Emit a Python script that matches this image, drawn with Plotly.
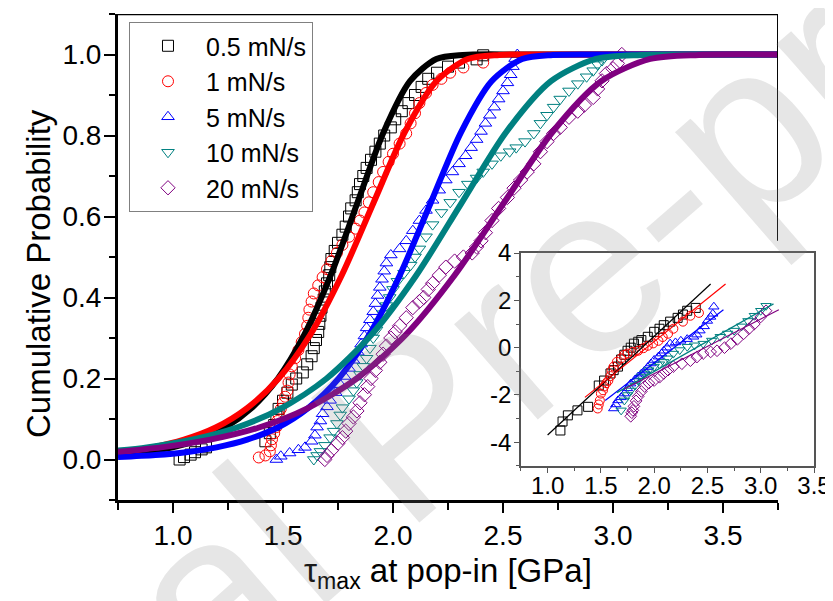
import plotly.graph_objects as go

# ---------------- data ----------------
series_names = ["0.5 mN/s", "1 mN/s", "5 mN/s", "10 mN/s", "20 mN/s"]
series_colors = ["#000000", "#ff0000", "#0000ff", "#008080", "#800080"]
series_symbols = ["square-open", "circle-open", "triangle-up-open", "triangle-down-open", "diamond-open"]

# empirical cumulative probability (main panel)
x05 = [1.03, 1.05, 1.08, 1.10, 1.13, 1.15, 1.42, 1.44, 1.46, 1.47, 1.48, 1.50, 1.52, 1.54, 1.56,
       1.59, 1.61, 1.63, 1.64, 1.65, 1.66, 1.665, 1.67, 1.675, 1.685, 1.69, 1.70, 1.71, 1.715, 1.72,
       1.735, 1.75, 1.77, 1.785, 1.80, 1.81, 1.83, 1.84, 1.85, 1.865, 1.88, 1.90, 1.92, 1.94, 1.96,
       1.99, 2.01, 2.04, 2.07, 2.10, 2.13, 2.16, 2.20, 2.25, 2.30, 2.38, 2.41]
y05 = [0.0, 0.006, 0.012, 0.018, 0.025, 0.03, 0.045, 0.065, 0.085, 0.105, 0.125, 0.145, 0.165, 0.185, 0.2,
       0.215, 0.235, 0.255, 0.275, 0.295, 0.315, 0.335, 0.355, 0.375, 0.395, 0.415, 0.435, 0.455, 0.475, 0.495,
       0.515, 0.535, 0.555, 0.575, 0.6, 0.62, 0.64, 0.66, 0.68, 0.7, 0.72, 0.74, 0.76, 0.78, 0.8,
       0.82, 0.84, 0.86, 0.88, 0.9, 0.92, 0.94, 0.955, 0.97, 0.98, 0.988, 0.998]

x1 = [1.39, 1.42, 1.44, 1.445, 1.45, 1.46, 1.47, 1.475, 1.48, 1.49, 1.50, 1.51, 1.52, 1.525, 1.53,
      1.54, 1.555, 1.57, 1.585, 1.60, 1.61, 1.615, 1.62, 1.63, 1.64, 1.66, 1.68, 1.70, 1.72, 1.745,
      1.77, 1.80, 1.83, 1.85, 1.87, 1.89, 1.91, 1.935, 1.955, 1.98, 2.0, 2.03, 2.06, 2.08, 2.10,
      2.12, 2.15, 2.18, 2.22, 2.26, 2.32, 2.41]
y1 = [0.005, 0.01, 0.02, 0.035, 0.05, 0.065, 0.08, 0.095, 0.11, 0.125, 0.14, 0.155, 0.17, 0.19, 0.21,
      0.23, 0.25, 0.27, 0.29, 0.31, 0.33, 0.35, 0.37, 0.39, 0.41, 0.43, 0.45, 0.47, 0.49, 0.51,
      0.53, 0.55, 0.57, 0.59, 0.61, 0.635, 0.66, 0.685, 0.71, 0.735, 0.755, 0.78, 0.805, 0.83, 0.855,
      0.88, 0.905, 0.925, 0.94, 0.955, 0.968, 0.98]

x5 = [1.47, 1.49, 1.53, 1.57, 1.60, 1.63, 1.645, 1.655, 1.67, 1.68, 1.70, 1.714, 1.74, 1.76, 1.78,
      1.80, 1.82, 1.84, 1.855, 1.87, 1.88, 1.895, 1.91, 1.92, 1.93, 1.94, 1.95, 1.96, 1.97, 1.99,
      2.03, 2.06, 2.09, 2.12, 2.15, 2.18, 2.21, 2.24, 2.27, 2.30, 2.33, 2.355, 2.38, 2.40, 2.42,
      2.44, 2.46, 2.48, 2.50, 2.52, 2.535, 2.545, 2.555, 2.565]
y5 = [0.0, 0.008, 0.016, 0.024, 0.03, 0.045, 0.06, 0.08, 0.095, 0.113, 0.13, 0.146, 0.165, 0.185, 0.205,
      0.225, 0.245, 0.265, 0.285, 0.305, 0.325, 0.345, 0.365, 0.385, 0.405, 0.425, 0.445, 0.465, 0.485, 0.505,
      0.52, 0.54, 0.565, 0.59, 0.615, 0.64, 0.665, 0.69, 0.71, 0.73, 0.75, 0.77, 0.79, 0.81, 0.83,
      0.85, 0.87, 0.89, 0.91, 0.93, 0.95, 0.97, 0.99, 1.0]

x10 = [1.64, 1.655, 1.67, 1.69, 1.714, 1.73, 1.745, 1.76, 1.77, 1.80, 1.82, 1.835, 1.85, 1.865, 1.88,
       1.895, 1.91, 1.925, 1.94, 1.955, 1.97, 1.985, 2.0, 2.02, 2.05, 2.08, 2.10, 2.12, 2.15, 2.18,
       2.22, 2.26, 2.30, 2.34, 2.38, 2.41, 2.45, 2.49, 2.53, 2.56, 2.60, 2.64, 2.67, 2.70, 2.73,
       2.76, 2.80, 2.84, 2.88, 2.91, 2.93, 2.95]
y10 = [0.0, 0.01, 0.02, 0.035, 0.054, 0.07, 0.089, 0.11, 0.128, 0.15, 0.17, 0.19, 0.21, 0.23, 0.25,
       0.275, 0.3, 0.32, 0.34, 0.36, 0.38, 0.4, 0.42, 0.44, 0.46, 0.48, 0.5, 0.52, 0.55, 0.58,
       0.61, 0.635, 0.66, 0.68, 0.695, 0.71, 0.73, 0.75, 0.76, 0.77, 0.785, 0.805, 0.83, 0.85, 0.87,
       0.89, 0.91, 0.928, 0.945, 0.96, 0.975, 0.985]

x20 = [1.69, 1.70, 1.72, 1.75, 1.77, 1.785, 1.80, 1.82, 1.836, 1.85, 1.87, 1.885, 1.90, 1.92, 1.94,
       1.955, 1.97, 1.99, 2.01, 2.03, 2.06, 2.09, 2.12, 2.14, 2.16, 2.18, 2.21, 2.24, 2.28, 2.32,
       2.36, 2.38, 2.40, 2.42, 2.45, 2.48, 2.52, 2.55, 2.58, 2.61, 2.64, 2.67, 2.70, 2.73, 2.76,
       2.80, 2.84, 2.87, 2.91, 2.93, 2.95, 2.97, 3.0, 3.02, 3.04]
y20 = [0.0, 0.01, 0.022, 0.04, 0.054, 0.07, 0.089, 0.105, 0.12, 0.14, 0.16, 0.18, 0.2, 0.22, 0.24,
       0.26, 0.28, 0.3, 0.315, 0.33, 0.35, 0.375, 0.39, 0.4, 0.42, 0.435, 0.455, 0.475, 0.49, 0.5,
       0.51, 0.525, 0.54, 0.56, 0.59, 0.62, 0.647, 0.67, 0.69, 0.71, 0.73, 0.76, 0.785, 0.805, 0.82,
       0.845, 0.86, 0.875, 0.894, 0.915, 0.935, 0.953, 0.965, 0.978, 1.0]

# fitted cumulative curves (main panel)
fx05 = [0.75, 0.878, 0.998, 1.118, 1.237, 1.357, 1.477, 1.597, 1.717, 1.837, 1.957, 2.077, 2.197, 2.317, 2.6, 3.75]
fy05 = [0.011, 0.018, 0.030, 0.049, 0.079, 0.127, 0.200, 0.308, 0.455, 0.632, 0.808, 0.934, 0.989, 0.999, 1.0, 1.0]
fx1 = [0.75, 0.907, 1.050, 1.194, 1.337, 1.480, 1.624, 1.767, 1.910, 2.053, 2.197, 2.340, 2.483, 2.8, 3.75]
fy1 = [0.017, 0.030, 0.049, 0.079, 0.127, 0.200, 0.308, 0.455, 0.632, 0.808, 0.934, 0.989, 0.999, 1.0, 1.0]
fx5 = [0.75, 0.92, 1.059, 1.198, 1.337, 1.476, 1.614, 1.753, 1.892, 2.031, 2.17, 2.309, 2.448, 2.587, 2.726, 3.0, 3.75]
fy5 = [0.006, 0.011, 0.018, 0.030, 0.049, 0.079, 0.127, 0.200, 0.308, 0.455, 0.632, 0.808, 0.934, 0.989, 0.999, 1.0, 1.0]
fx10 = [0.75, 0.881, 1.086, 1.290, 1.494, 1.698, 1.902, 2.106, 2.310, 2.514, 2.718, 2.922, 3.126, 3.4, 3.75]
fy10 = [0.022, 0.030, 0.049, 0.079, 0.127, 0.200, 0.308, 0.455, 0.632, 0.808, 0.934, 0.989, 0.999, 1.0, 1.0]
fx20 = [0.75, 0.946, 1.169, 1.391, 1.613, 1.835, 2.058, 2.280, 2.502, 2.724, 2.946, 3.169, 3.391, 3.75]
fy20 = [0.019, 0.030, 0.049, 0.079, 0.127, 0.200, 0.308, 0.455, 0.632, 0.808, 0.934, 0.989, 0.999, 1.0]

# inset: Weibull plot points
ix05 = [1.12, 1.14, 1.19, 1.28, 1.38, 1.48, 1.53, 1.59, 1.62, 1.66, 1.69, 1.72, 1.75, 1.78, 1.81,
        1.85, 1.88, 1.94, 2.0, 2.05, 2.09, 2.15, 2.22, 2.27, 2.31, 2.39]
iy05 = [-3.5, -3.12, -2.86, -2.65, -2.5, -1.6, -1.39, -1.09, -0.95, -0.8, -0.5, -0.3, -0.13, 0.0, 0.17,
        0.25, 0.32, 0.46, 0.67, 0.8, 0.95, 1.1, 1.26, 1.4, 1.56, 1.68]
ix1 = [1.47, 1.48, 1.49, 1.5, 1.52, 1.53, 1.55, 1.57, 1.59, 1.6, 1.62, 1.65, 1.69, 1.72, 1.75,
       1.8, 1.85, 1.9, 1.94, 1.99, 2.04, 2.08, 2.13, 2.18, 2.27, 2.34, 2.42]
iy1 = [-2.57, -2.4, -2.23, -1.94, -1.8, -1.64, -1.5, -1.39, -1.2, -0.97, -0.8, -0.6, -0.45, -0.3, -0.25,
       -0.18, -0.13, -0.02, 0.08, 0.18, 0.29, 0.45, 0.59, 0.8, 1.1, 1.35, 1.47]
ix5 = [1.62, 1.64, 1.66, 1.69, 1.72, 1.75, 1.78, 1.82, 1.85, 1.88, 1.91, 1.94, 1.97, 2.0, 2.04,
       2.07, 2.09, 2.12, 2.15, 2.2, 2.25, 2.31, 2.37, 2.4, 2.43, 2.47, 2.5, 2.53, 2.55, 2.56]
iy5 = [-2.57, -2.4, -2.23, -2.1, -1.94, -1.72, -1.52, -1.35, -1.22, -1.1, -0.97, -0.82, -0.67, -0.52, -0.38,
       -0.25, -0.13, 0.0, 0.17, 0.22, 0.29, 0.36, 0.46, 0.55, 0.72, 0.9, 1.13, 1.3, 1.43, 1.73]
ix10 = [1.69, 1.72, 1.75, 1.78, 1.82, 1.85, 1.88, 1.91, 1.95, 2.0, 2.05, 2.09, 2.13, 2.18, 2.24,
        2.31, 2.38, 2.46, 2.54, 2.62, 2.69, 2.75, 2.82, 2.88, 2.94, 3.0, 3.05]
iy10 = [-2.65, -2.23, -2.0, -1.81, -1.6, -1.39, -1.22, -1.09, -0.95, -0.8, -0.7, -0.6, -0.45, -0.25, -0.1,
        0.04, 0.1, 0.17, 0.3, 0.46, 0.6, 0.72, 0.9, 1.13, 1.35, 1.56, 1.77]
ix20 = [1.78, 1.79, 1.80, 1.81, 1.83, 1.85, 1.88, 1.91, 1.95, 2.0, 2.05, 2.09, 2.13, 2.18, 2.26,
        2.34, 2.4, 2.46, 2.53, 2.59, 2.66, 2.72, 2.78, 2.84, 2.89, 2.94, 3.0, 3.05]
iy20 = [-2.9, -2.75, -2.65, -2.48, -2.25, -2.06, -1.85, -1.64, -1.5, -1.39, -1.25, -1.09, -0.95, -0.8, -0.68,
        -0.55, -0.4, -0.25, -0.18, -0.13, 0.0, 0.17, 0.35, 0.59, 0.8, 1.0, 1.3, 1.56]

# inset: fitted straight lines (end points)
lx05, ly05 = [1.0, 2.53], [-3.69, 2.69]
lx1, ly1 = [1.35, 2.67], [-2.1, 2.69]
lx5, ly5 = [1.54, 2.65], [-2.23, 1.6]
lx10, ly10 = [1.65, 3.12], [-1.9, 1.85]
lx20, ly20 = [1.72, 3.17], [-1.75, 1.6]

x_ticks_main = [1.0, 1.5, 2.0, 2.5, 3.0, 3.5]
y_ticks_main = [0.0, 0.2, 0.4, 0.6, 0.8, 1.0]
y_ticks_inset = [-4, -2, 0, 2, 4]
y_ticktext_inset = ["-4", "-2", "0", "2", "4"]

pts = [(x05, y05), (x1, y1), (x5, y5), (x10, y10), (x20, y20)]
fits = [(fx05, fy05), (fx1, fy1), (fx5, fy5), (fx10, fy10), (fx20, fy20)]
ipts = [(ix05, iy05), (ix1, iy1), (ix5, iy5), (ix10, iy10), (ix20, iy20)]
ilines = [(lx05, ly05), (lx1, ly1), (lx5, ly5), (lx10, ly10), (lx20, ly20)]

FONT = "Liberation Sans, Arial, sans-serif"

fig = go.Figure()

for i in range(5):
    fig.add_trace(go.Scatter(
        x=pts[i][0], y=pts[i][1], mode="markers", name=series_names[i],
        legendgroup="g%d" % i,
        marker=dict(symbol=series_symbols[i], size=11, color=series_colors[i],
                    line=dict(width=1, color=series_colors[i])),
        xaxis="x", yaxis="y"))

for i in range(5):
    fig.add_trace(go.Scatter(
        x=fits[i][0], y=fits[i][1], mode="lines", showlegend=False,
        legendgroup="g%d" % i,
        line=dict(color=series_colors[i], width=6, shape="spline", smoothing=0.8),
        xaxis="x", yaxis="y"))

for i in range(5):
    fig.add_trace(go.Scatter(
        x=ipts[i][0], y=ipts[i][1], mode="markers", showlegend=False,
        legendgroup="g%d" % i,
        marker=dict(symbol=series_symbols[i], size=9, color=series_colors[i],
                    line=dict(width=1, color=series_colors[i])),
        xaxis="x2", yaxis="y2"))

for i in range(5):
    fig.add_trace(go.Scatter(
        x=ilines[i][0], y=ilines[i][1], mode="lines", showlegend=False,
        legendgroup="g%d" % i,
        line=dict(color=series_colors[i], width=1.2),
        xaxis="x2", yaxis="y2"))

fig.update_layout(
    width=833, height=601,
    margin=dict(l=110, r=27, t=6, b=109, autoexpand=False),
    paper_bgcolor="white", plot_bgcolor="white",
    font=dict(family=FONT, color="black"),
    showlegend=True,
    legend=dict(x=0.0158, y=0.9835, xanchor="left", yanchor="top",
                bgcolor="white", bordercolor="#808080", borderwidth=1,
                font=dict(size=25, family=FONT), tracegroupgap=0,
                itemwidth=66),
    xaxis=dict(domain=[0, 0.9483], range=[0.75, 3.75], showline=True, linewidth=3, linecolor="black",
               ticks="outside", ticklen=10, tickwidth=2, tickcolor="black", automargin=False,
               tickvals=x_ticks_main, tickformat=".1f", tickfont=dict(size=28),
               ticklabelstandoff=-2,
               showgrid=False, zeroline=False,
               minor=dict(ticks="outside", ticklen=7, tickwidth=2, tickcolor="black",
                          dtick=0.25, tick0=0.75, showgrid=False)),
    yaxis=dict(domain=[0, 1], range=[-0.1, 1.1], showline=True, linewidth=3, linecolor="black",
               ticks="outside", ticklen=11, tickwidth=2, tickcolor="black", automargin=False,
               tickvals=y_ticks_main, tickformat=".1f", tickfont=dict(size=28),
               ticklabelstandoff=-3,
               showgrid=False, zeroline=False,
               minor=dict(ticks="outside", ticklen=6, tickwidth=2, tickcolor="black",
                          dtick=0.1, tick0=0.1, showgrid=False)),
    xaxis2=dict(domain=[0.579, 1.0], range=[0.75, 3.5], anchor="y2", showline=True, mirror=True,
                linewidth=1.5, linecolor="#555555", ticks="outside", ticklen=5, tickwidth=1,
                tickcolor="#555555", tick0=1.0, dtick=0.5, tickformat=".1f", automargin=False,
                ticklabelstandoff=-8,
                tickfont=dict(size=24), showgrid=False, zeroline=False,
                minor=dict(ticks="outside", ticklen=3, tickwidth=1, tickcolor="#555555",
                           dtick=0.25, tick0=0.75, showgrid=False)),
    yaxis2=dict(domain=[0.07, 0.5082], range=[-5, 4], anchor="x2", showline=True, mirror=True,
                linewidth=1.5, linecolor="#555555", ticks="outside", ticklen=5, tickwidth=1,
                tickcolor="#555555", tickvals=y_ticks_inset, ticktext=y_ticktext_inset,
                automargin=False, ticklabelstandoff=-2,
                tickfont=dict(size=24), showgrid=False, zeroline=False,
                minor=dict(ticks="outside", ticklen=3, tickwidth=1, tickcolor="#555555",
                           dtick=1, tick0=-5, showgrid=False)),
    shapes=[
        dict(type="line", xref="x", yref="y", x0=0.75, x1=3.75, y0=1.1, y1=1.1,
             line=dict(color="black", width=2.5)),
        dict(type="line", xref="x", yref="y", x0=3.75, x1=3.75, y0=1.1, y1=0.54,
             line=dict(color="black", width=2)),
    ],
    annotations=[
        dict(text="Cumulative Probability", xref="paper", yref="paper", x=-0.115, y=0.467,
             textangle=-90, showarrow=False, font=dict(size=33, family=FONT),
             xanchor="center", yanchor="middle"),
        dict(text="τ<sub>max</sub> at pop-in [GPa]", xref="paper", yref="paper", x=0.474, y=-0.15,
             showarrow=False, font=dict(size=33, family=FONT), xanchor="center", yanchor="middle"),
        dict(text="Journal Pre-proof", xref="paper", yref="paper", x=0.414, y=0.156,
             textangle=-41, showarrow=False,
             font=dict(size=240, family=FONT, color="rgba(128,128,128,0.2)"),
             xanchor="center", yanchor="middle"),
    ],
)

fig.write_html("out.html")
